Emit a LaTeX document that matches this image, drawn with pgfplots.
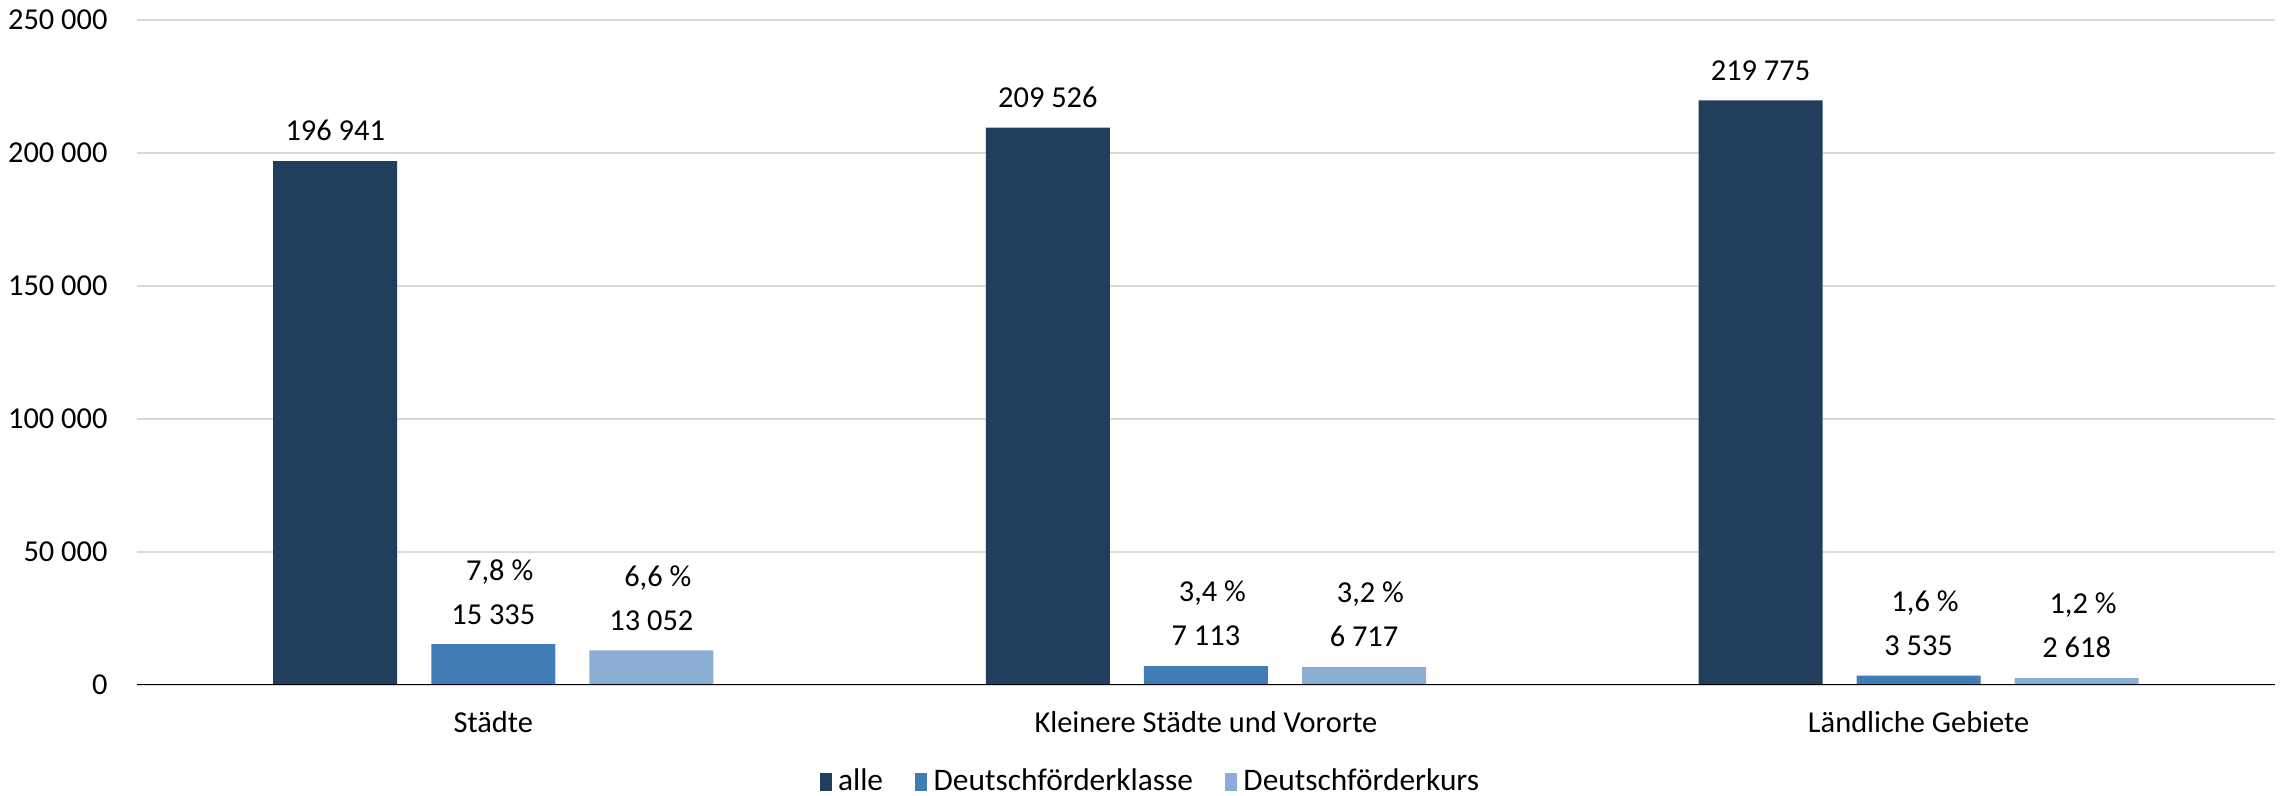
\documentclass[border=0pt]{standalone}
\usepackage{fontspec}
\setmainfont{Carlito}
\usepackage{pgfplots}
\pgfplotsset{compat=1.18}
\definecolor{cAlle}{HTML}{213E5C}
\definecolor{cKlasse}{HTML}{417DB4}
\definecolor{cKurs}{HTML}{8BAED4}
\definecolor{gridgray}{HTML}{D9D9D9}
\pgfplotsset{
  legsq/.style={legend image code/.code={\fill[##1] (0pt,-2.7pt) rectangle (3.8pt,2.7pt);}},
  pct/.style={draw=none, fill=none, forget plot, point meta=explicit symbolic,
    nodes near coords={\pgfplotspointmeta},
    every node near coord/.append style={yshift=12.6pt, xshift=2pt}},
}
\begin{document}
\begin{tikzpicture}
\path[use as bounding box] (-42.81pt,-34.69pt) rectangle (669.69pt,214.06pt);
\begin{axis}[
  at={(0pt,0pt)}, anchor=south west,
  scale only axis, width=668.1pt, height=207.8pt,
  ybar, bar width=38.75pt,
  xmin=-0.5, xmax=2.5, ymin=0, ymax=250000,
  xtick={0,1,2},
  xticklabels={Städte, Kleinere Städte und Vororte, Ländliche Gebiete},
  ytick={0,50000,...,250000},
  scaled y ticks=false,
  /pgf/number format/fixed,
  /pgf/number format/precision=0,
  /pgf/number format/1000 sep={\ },
  /pgf/number format/assume math mode=true,
  major tick length=0pt,
  tick style={draw=none},
  axis line style={draw=none},
  ymajorgrids,
  grid style={gridgray, line width=0.6pt},
  tick label style={font=\fontsize{9.5}{11}\selectfont},
  yticklabel style={xshift=-5.7pt},
  xticklabel style={yshift=-4.8pt},
  every node near coord/.append style={font=\fontsize{9.5}{11}\selectfont, yshift=2.7pt},
  legend style={at={(0.475,-0.146)}, anchor=center, draw=none,
    legend columns=-1, font=\fontsize{9.8}{11}\selectfont,
    /tikz/every even column/.append style={column sep=8pt}},
]
\addplot[fill=cAlle, draw=none, bar shift=-49.4pt, legsq, nodes near coords, point meta=y]
  coordinates {(0,196941) (1,209526) (2,219775)};
\addlegendentry{alle}
\addplot[fill=cKlasse, draw=none, bar shift=0pt, legsq, nodes near coords, point meta=y]
  coordinates {(0,15335) (1,7113) (2,3535)};
\addlegendentry{Deutschförderklasse}
\addplot[fill=cKurs, draw=none, bar shift=49.4pt, legsq, nodes near coords, point meta=y]
  coordinates {(0,13052) (1,6717) (2,2618)};
\addlegendentry{Deutschförderkurs}
\addplot[pct, bar shift=0pt]
  coordinates {(0,15335) [7{,}8~\%] (1,7113) [3{,}4~\%] (2,3535) [1{,}6~\%]};
\addplot[pct, bar shift=49.4pt]
  coordinates {(0,13052) [6{,}6~\%] (1,6717) [3{,}2~\%] (2,2618) [1{,}2~\%]};
\draw[black, line width=0.7pt] (rel axis cs:0,0) -- (rel axis cs:1,0);
\end{axis}
\end{tikzpicture}
\end{document}
